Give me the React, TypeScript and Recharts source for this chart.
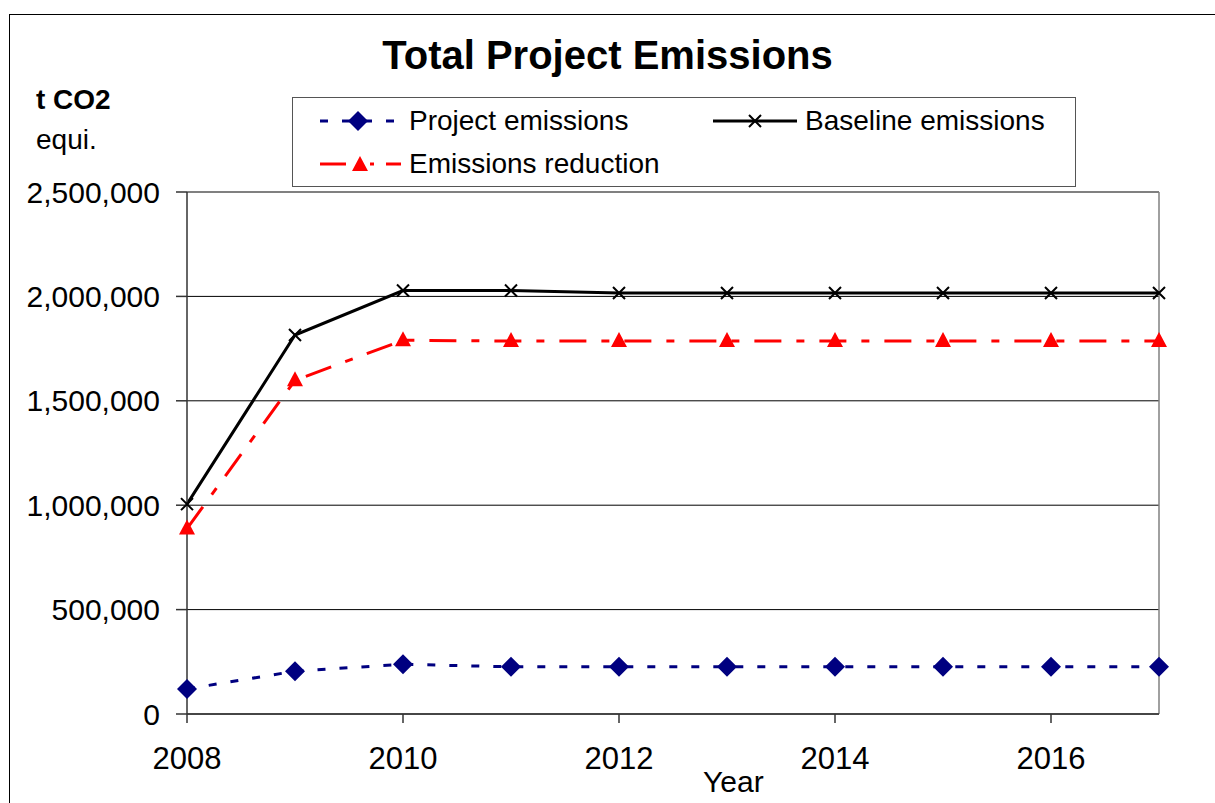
import React from "react"
import { CartesianGrid, Line, LineChart, ReferenceLine, XAxis, YAxis } from "recharts"

const years = [2008, 2009, 2010, 2011, 2012, 2013, 2014, 2015, 2016, 2017]
const projectEmissions = [120000, 205000, 238000, 226000, 226000, 226000, 226000, 226000, 226000, 226000]
const baselineEmissions = [1005000, 1815000, 2028000, 2028000, 2016000, 2016000, 2016000, 2016000, 2016000, 2016000]
const emissionsReduction = [888000, 1598000, 1790000, 1786000, 1786000, 1786000, 1786000, 1786000, 1786000, 1786000]
const yTicks = [0, 500000, 1000000, 1500000, 2000000, 2500000]
const xTicks = [2008, 2010, 2012, 2014, 2016]

const data = years.map((year, i) => ({
    year,
    project: projectEmissions[i],
    baseline: baselineEmissions[i],
    reduction: emissionsReduction[i],
}))

const FONT = "'Liberation Sans', Arial, sans-serif"
const NAVY = "#000080"
const RED = "#ff0000"

const Diamond = (props: any) => {
    const { cx, cy } = props
    if (cx == null || cy == null) return null
    return <path d={`M${cx},${cy - 10} L${cx + 10},${cy} L${cx},${cy + 10} L${cx - 10},${cy} Z`} fill={NAVY} />
}

const Cross = (props: any) => {
    const { cx, cy } = props
    if (cx == null || cy == null) return null
    return (
        <path
            d={`M${cx - 6},${cy - 6} L${cx + 6},${cy + 6} M${cx - 6},${cy + 6} L${cx + 6},${cy - 6}`}
            stroke="#000"
            strokeWidth={2}
        />
    )
}

const Triangle = (props: any) => {
    const { cx, cy } = props
    if (cx == null || cy == null) return null
    return <path d={`M${cx},${cy - 9} L${cx + 8},${cy + 6} L${cx - 8},${cy + 6} Z`} fill={RED} />
}

function LegendIcon({ kind }: { kind: "project" | "baseline" | "reduction" }) {
    if (kind === "project") {
        return (
            <svg width={105} height={30}>
                <line x1={22} y1={15} x2={100} y2={15} stroke={NAVY} strokeWidth={3} strokeDasharray="8 14" />
                <Diamond cx={60} cy={15} />
            </svg>
        )
    }
    if (kind === "baseline") {
        return (
            <svg width={90} height={30}>
                <line x1={2} y1={15} x2={86} y2={15} stroke="#000" strokeWidth={3} />
                <Cross cx={44} cy={15} />
            </svg>
        )
    }
    return (
        <svg width={105} height={30}>
            <line x1={22} y1={15} x2={48} y2={15} stroke={RED} strokeWidth={3} />
            <line x1={72} y1={15} x2={76} y2={15} stroke={RED} strokeWidth={3} />
            <line x1={88} y1={15} x2={103} y2={15} stroke={RED} strokeWidth={3} />
            <Triangle cx={62} cy={16} />
        </svg>
    )
}

export default function App() {
    const labelStyle: React.CSSProperties = { position: "absolute", fontFamily: FONT, color: "#000", whiteSpace: "nowrap" }

    return (
        <div style={{ position: "fixed", left: 0, top: 0, width: 1215, height: 803, overflow: "hidden", background: "#fff" }}>
            <div style={{ position: "absolute", left: 9, top: 14, width: 1260, height: 850, border: "1.5px solid #000" }} />

            <LineChart
                width={1215}
                height={803}
                data={data}
                margin={{ top: 192, right: 56, left: 107, bottom: 29 }}
                style={{ position: "absolute", left: 0, top: 0 }}
            >
                <CartesianGrid horizontal vertical={false} stroke="#000" strokeWidth={1} />
                <XAxis
                    dataKey="year"
                    type="number"
                    domain={[2008, 2017]}
                    ticks={xTicks}
                    height={60}
                    stroke="#333"
                    strokeWidth={1.5}
                    tickSize={9}
                    tickMargin={24}
                    tick={{ fill: "#000", fontSize: 31, fontFamily: FONT }}
                />
                <YAxis
                    domain={[0, 2500000]}
                    ticks={yTicks}
                    width={80}
                    stroke="#333"
                    strokeWidth={1.5}
                    tickSize={11}
                    tickMargin={16}
                    tick={{ fill: "#000", fontSize: 30, fontFamily: FONT }}
                    tickFormatter={(v) => v.toLocaleString("en-US")}
                />
                <ReferenceLine y={2500000} stroke="#808080" strokeWidth={1.5} />
                <ReferenceLine x={2017} stroke="#808080" strokeWidth={1.5} />
                <Line
                    dataKey="project"
                    stroke={NAVY}
                    strokeWidth={3}
                    strokeDasharray="8 14"
                    dot={<Diamond />}
                    activeDot={false}
                    isAnimationActive={false}
                />
                <Line
                    dataKey="baseline"
                    stroke="#000"
                    strokeWidth={3}
                    dot={<Cross />}
                    activeDot={false}
                    isAnimationActive={false}
                />
                <Line
                    dataKey="reduction"
                    stroke={RED}
                    strokeWidth={3}
                    strokeDasharray="27 15 8 15"
                    dot={<Triangle />}
                    activeDot={false}
                    isAnimationActive={false}
                />
            </LineChart>

            <div style={{ ...labelStyle, left: 0, width: 1215, top: 33, textAlign: "center", fontSize: 40, fontWeight: "bold" }}>
                Total Project Emissions
            </div>
            <div style={{ ...labelStyle, left: 36, top: 84, fontSize: 28, fontWeight: "bold" }}>t CO2</div>
            <div style={{ ...labelStyle, left: 36, top: 124, fontSize: 28 }}>equi.</div>
            <div style={{ ...labelStyle, left: 703, top: 765, fontSize: 30 }}>Year</div>

            <div
                style={{
                    position: "absolute",
                    left: 292,
                    top: 97,
                    width: 782,
                    height: 88,
                    border: "1.5px solid #555",
                    fontFamily: FONT,
                    fontSize: 28,
                }}
            >
                <div style={{ position: "absolute", left: 5, top: 7, display: "flex", alignItems: "center" }}>
                    <LegendIcon kind="project" />
                    <span style={{ marginLeft: 6 }}>Project emissions</span>
                </div>
                <div style={{ position: "absolute", left: 418, top: 7, display: "flex", alignItems: "center" }}>
                    <LegendIcon kind="baseline" />
                    <span style={{ marginLeft: 4 }}>Baseline emissions</span>
                </div>
                <div style={{ position: "absolute", left: 5, top: 50, display: "flex", alignItems: "center" }}>
                    <LegendIcon kind="reduction" />
                    <span style={{ marginLeft: 6 }}>Emissions reduction</span>
                </div>
            </div>
        </div>
    )
}
